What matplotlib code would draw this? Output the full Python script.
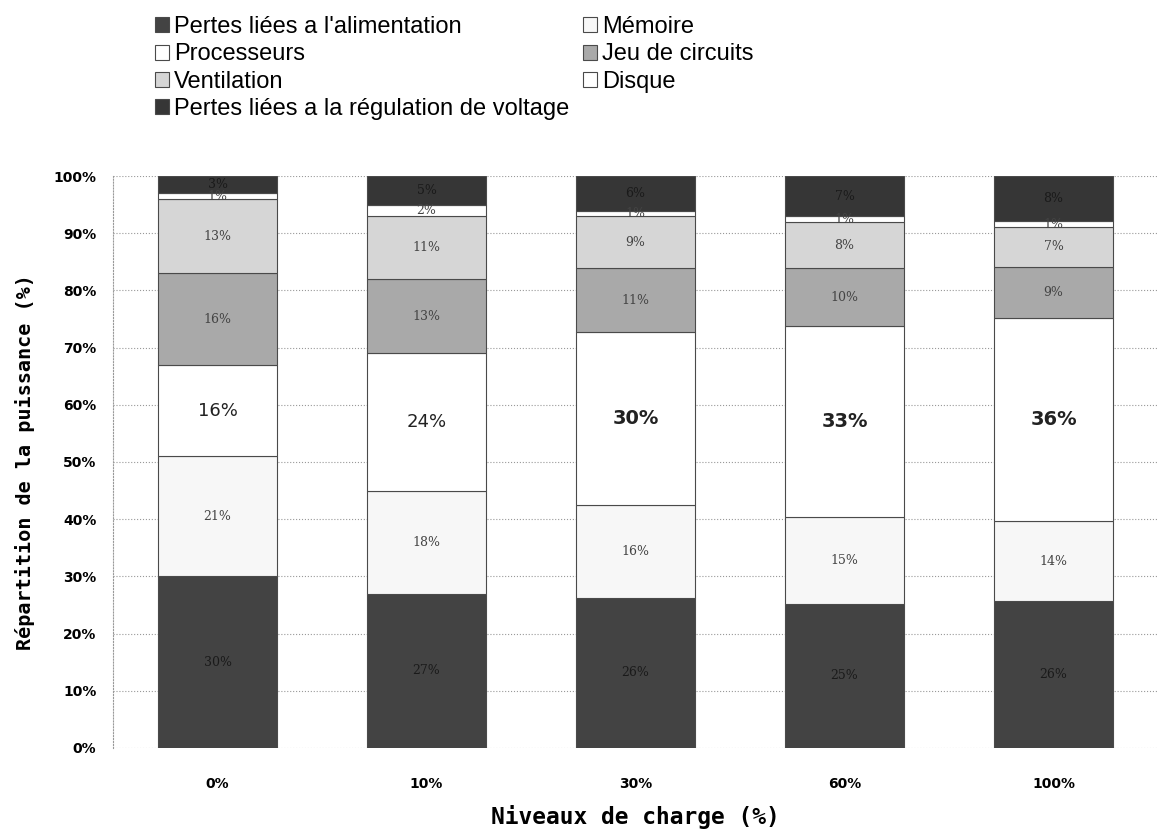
import numpy as np
import matplotlib
matplotlib.use("Agg")
import matplotlib.pyplot as plt
from matplotlib.ticker import FuncFormatter

# données (en %), de bas en haut
niveaux = ["0%", "10%", "30%", "60%", "100%"]
alimentation = [30, 27, 26, 25, 26]
memoire = [21, 18, 16, 15, 14]
processeurs = [16, 24, 30, 33, 36]
circuits = [16, 13, 11, 10, 9]
ventilation = [13, 11, 9, 8, 7]
disque = [1, 2, 1, 1, 1]
regulation = [3, 5, 6, 7, 8]

series = [
    ("Pertes liées a l'alimentation", alimentation, "#434343"),
    ("Mémoire", memoire, "#f7f7f7"),
    ("Processeurs", processeurs, "#ffffff"),
    ("Jeu de circuits", circuits, "#a9a9a9"),
    ("Ventilation", ventilation, "#d6d6d6"),
    ("Disque", disque, "#ffffff"),
    ("Pertes liées a la régulation de voltage", regulation, "#363636"),
]

fig = plt.figure(figsize=(11.58, 8.31), dpi=100)
ax = fig.add_axes([0.0976, 0.0999, 0.9024, 0.6883])

x = np.arange(len(niveaux))
totaux = np.sum([s[1] for s in series], axis=0)
bas = np.zeros(len(niveaux))
handles = {}
for nom, vals, couleur in series:
    vals = np.array(vals, dtype=float)
    parts = vals / totaux * 100
    b = ax.bar(x, parts, 0.57, bottom=bas, color=couleur,
               edgecolor="#4a4a4a", linewidth=0.8, label=nom, zorder=2)
    handles[nom] = b
    for i in range(len(x)):
        yc = bas[i] + parts[i] / 2
        txt = "%d%%" % vals[i]
        if nom == "Processeurs":
            ax.text(x[i], yc, txt, ha="center", va="center",
                    fontsize=14 if i >= 2 else 13,
                    fontweight="bold" if i >= 2 else "normal",
                    color="#222222", zorder=3)
        else:
            fonce = couleur in ("#434343", "#363636")
            ax.text(x[i], yc, txt, ha="center", va="center", fontsize=9,
                    family="DejaVu Serif",
                    color="#1a1a1a" if fonce else "#444444", zorder=3)
    bas += parts

ax.set_xlim(-0.5, len(niveaux) - 0.5)
ax.set_ylim(0, 100)
ax.set_yticks(np.arange(0, 101, 10))
ax.yaxis.set_major_formatter(FuncFormatter(lambda v, p: "%d%%" % v))
ax.set_xticks(x)
ax.set_xticklabels(niveaux)
ax.tick_params(axis="both", length=0, labelsize=10)
ax.tick_params(axis="x", pad=21)
ax.tick_params(axis="y", pad=12)
for lab in ax.get_xticklabels() + ax.get_yticklabels():
    lab.set_fontweight("bold")

ax.yaxis.grid(True, linestyle=":", color="#999999", linewidth=0.8, zorder=0)
ax.set_axisbelow(True)
for s in ["top", "right", "bottom"]:
    ax.spines[s].set_visible(False)
ax.spines["left"].set_linestyle(":")
ax.spines["left"].set_color("#999999")

ax.set_ylabel("Répartition de la puissance (%)", family="DejaVu Sans Mono",
              fontweight="bold", fontsize=14.5)
ax.set_xlabel("Niveaux de charge (%)", family="DejaVu Sans Mono",
              fontweight="bold", fontsize=16.5)
ax.xaxis.set_label_coords(0.5, -0.121)
ax.xaxis.label.set_va("center")
ax.yaxis.set_label_coords(-0.084, 0.5)
ax.yaxis.label.set_va("center")

# légende sur deux colonnes, remplie ligne par ligne
ordre = ["Pertes liées a l'alimentation", "Processeurs", "Ventilation",
         "Pertes liées a la régulation de voltage", "Mémoire",
         "Jeu de circuits", "Disque"]
leg = fig.legend([handles[n] for n in ordre], ordre, ncol=2,
                 loc="upper left", bbox_to_anchor=(0.1155, 1.006),
                 frameon=False, handlelength=0.6, handleheight=0.6,
                 handletextpad=0.2, columnspacing=0.6, labelspacing=0.22,
                 prop={"family": "Liberation Sans", "size": 17})

fig.savefig("out.png", dpi=100)
